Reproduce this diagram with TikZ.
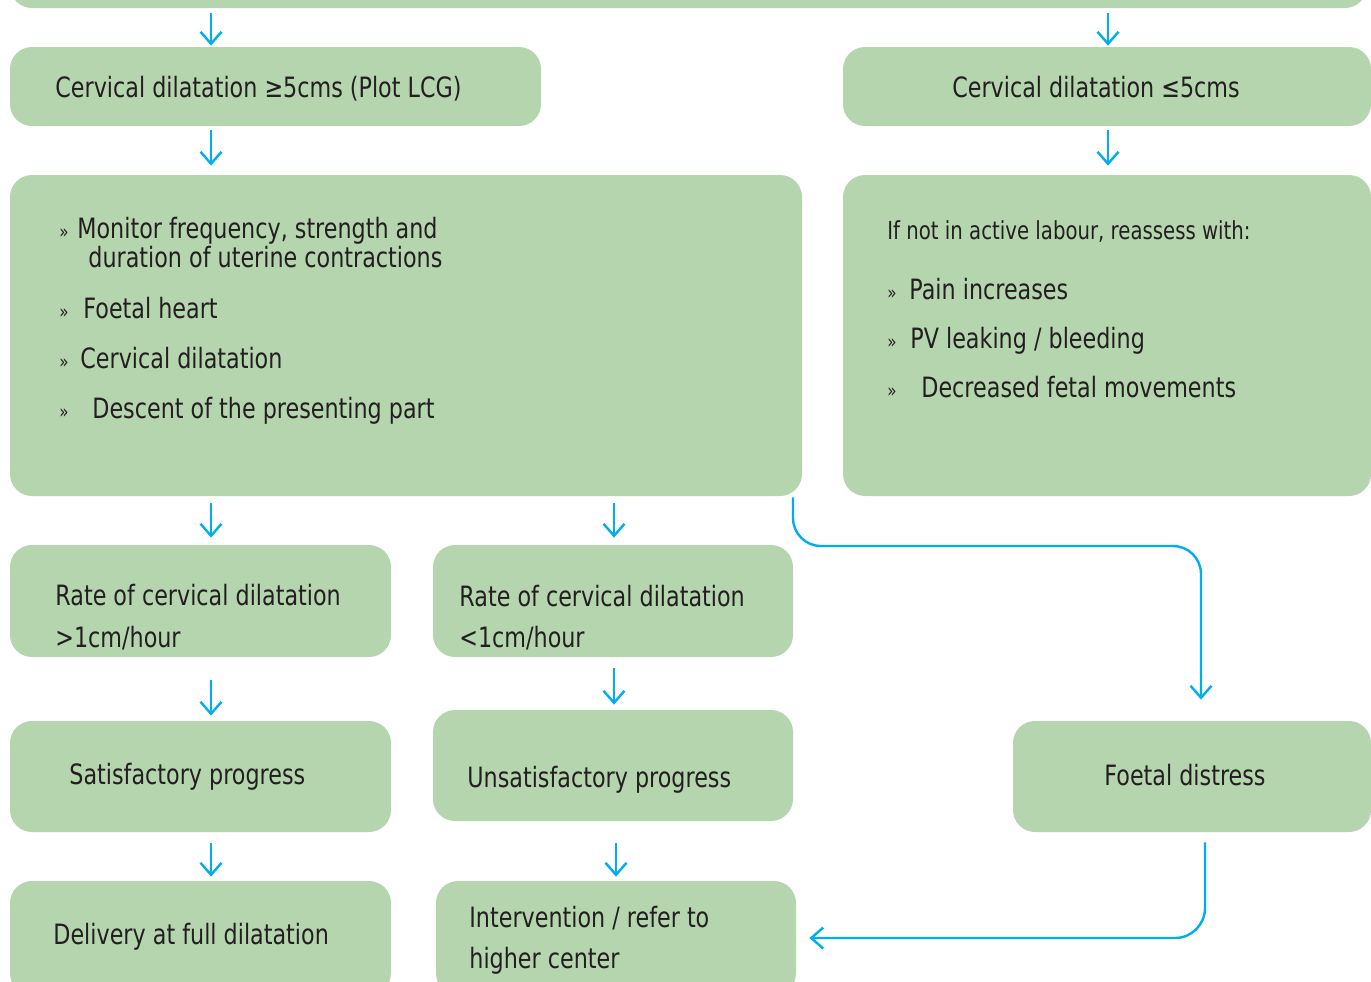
\documentclass[tikz,border=0pt]{standalone}
\usepackage{fontspec}
\setmainfont{DejaVu Sans}[FakeStretch=0.795]
\usetikzlibrary{arrows.meta,fit}
\definecolor{boxgreen}{HTML}{B5D5AE}
\definecolor{txt}{HTML}{231F20}
\definecolor{arrblue}{HTML}{00AEEF}
\begin{document}
\begin{tikzpicture}[x=0.5pt,y=-0.5pt,
 gbox/.style={fill=boxgreen, draw=none, rounded corners=11pt, inner sep=0pt},
 lbl/.style={anchor=base west, inner sep=0pt, text=txt, font=\fontsize{14}{16}\selectfont},
 lblc/.style={lbl, anchor=base},
 smalllbl/.style={lbl, font=\fontsize{12.4}{14}\selectfont},
 bul/.style={anchor=base west, inner sep=0pt, text=txt, font=\fontsize{9.5}{10}\selectfont},
 arr/.style={draw=arrblue, line width=1.2pt, -{Straight Barb[length=6pt,width=10.5pt]}},
]
\useasboundingbox (0,0) rectangle (1371,981);
\clip (0,0) rectangle (1371,981);
% boxes
\node[gbox, fit={(10,-60)(1367,8)}] (b0) {};
\node[gbox, fit={(10,47)(541,126)}] (b1) {};
\node[gbox, fit={(843,47)(1371,126)}] (b2) {};
\node[gbox, fit={(10,175)(802,496)}] (b3) {};
\node[gbox, fit={(843,175)(1371,496)}] (b4) {};
\node[gbox, fit={(10,545)(391,657)}] (b5) {};
\node[gbox, fit={(433,545)(793,657)}] (b6) {};
\node[gbox, fit={(10,721)(391,832)}] (b7) {};
\node[gbox, fit={(433,710)(793,821)}] (b8) {};
\node[gbox, fit={(1013,721)(1371,832)}] (b9) {};
\node[gbox, fit={(10,881)(391,995)}] (b10) {};
\node[gbox, fit={(436,881)(796,995)}] (b11) {};
% texts
\node[lbl] (t1) at (55,97) {Cervical dilatation ≥5cms (Plot LCG)};
\node[lblc] (t2) at (1096,97) {Cervical dilatation ≤5cms};
\node[bul] (u3a) at (59,238) {»};
\node[lbl] (t3a) at (77,238) {Monitor frequency, strength and};
\node[lbl] (t3b) at (88,267) {duration of uterine contractions};
\node[bul] (u3b) at (59,318) {»};
\node[lbl] (t3c) at (83,318) {Foetal heart};
\node[bul] (u3c) at (59,368) {»};
\node[lbl] (t3d) at (80,368) {Cervical dilatation};
\node[bul] (u3d) at (59,418) {»};
\node[lbl] (t3e) at (92,418) {Descent of the presenting part};
\node[smalllbl] (t4a) at (887,239) {If not in active labour, reassess with:};
\node[bul] (u4b) at (887,299) {»};
\node[lbl] (t4b) at (909,299) {Pain increases};
\node[bul] (u4c) at (887,348) {»};
\node[lbl] (t4c) at (910,348) {PV leaking / bleeding};
\node[bul] (u4d) at (887,397) {»};
\node[lbl] (t4d) at (921,397) {Decreased fetal movements};
\node[lbl] (t5a) at (55,605) {Rate of cervical dilatation};
\node[lbl] (t5b) at (55,647) {>1cm/hour};
\node[lbl] (t6a) at (459,606) {Rate of cervical dilatation};
\node[lbl] (t6b) at (459,647) {<1cm/hour};
\node[lbl] (t7) at (69,784) {Satisfactory progress};
\node[lbl] (t8) at (467,787) {Unsatisfactory progress};
\node[lbl] (t9) at (1104,785) {Foetal distress};
\node[lbl] (t10) at (53,944) {Delivery at full dilatation};
\node[lbl] (t11a) at (469,927) {Intervention / refer to};
\node[lbl] (t11b) at (469,968) {higher center};
% x positions
\coordinate (xa) at (211,0);
\coordinate (xb) at (1108,0);
\coordinate (xc) at (614,0);
\coordinate (xd) at (616,0);
\coordinate (xe) at (793,546);
\coordinate (xf) at (1201,0);
\coordinate (xg) at (1205,0);
% arrows
\draw[arr, shorten <=2.5pt, shorten >=0.5pt] (b0.south -| xa) -- (b1.north -| xa);
\draw[arr, shorten <=2.5pt, shorten >=0.5pt] (b0.south -| xb) -- (b2.north -| xb);
\draw[arr, shorten <=2pt, shorten >=4.5pt] (b1.south -| xa) -- (b3.north -| xa);
\draw[arr, shorten <=2pt, shorten >=4.5pt] (b2.south -| xb) -- (b4.north -| xb);
\draw[arr, shorten <=3.5pt, shorten >=3.5pt] (b3.south -| xa) -- (b5.north -| xa);
\draw[arr, shorten <=3.5pt, shorten >=3.5pt] (b3.south -| xc) -- (b6.north -| xc);
\draw[arr, shorten <=11.5pt, shorten >=2.5pt] (b5.south -| xa) -- (b7.north -| xa);
\draw[arr, shorten <=5.5pt, shorten >=2.5pt] (b6.south -| xc) -- (b8.north -| xc);
\draw[arr, shorten <=5.5pt, shorten >=2pt] (b7.south -| xa) -- (b10.north -| xa);
\draw[arr, shorten <=11pt, shorten >=2pt] (b8.south -| xd) -- (b11.north -| xd);
\draw[arr, rounded corners=14pt, shorten <=0.5pt, shorten >=10.5pt] (b3.south -| xe) -- (xe) -| (b9.north -| xf);
\draw[arr, rounded corners=15pt, shorten <=5pt, shorten >=6.5pt] (b9.south -| xg) |- (b11.east);
\end{tikzpicture}
\end{document}
